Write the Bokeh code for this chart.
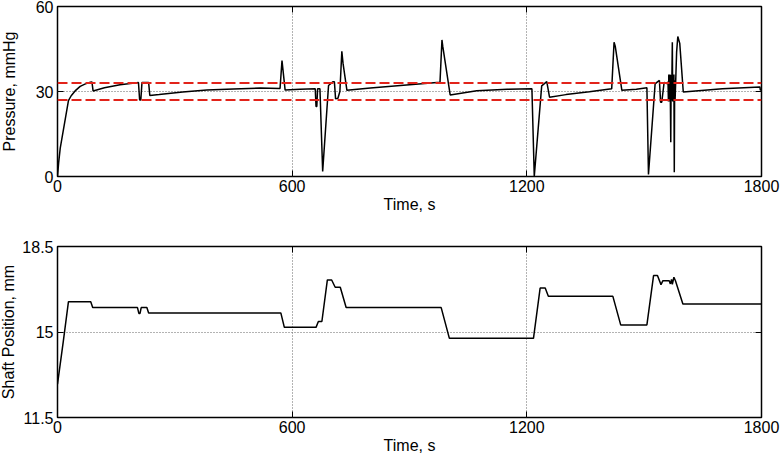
from bokeh.plotting import figure
from bokeh.layouts import column
from bokeh.models import FixedTicker, LinearAxis, Span
from bokeh.embed import file_html
from bokeh.resources import INLINE

# ---------------- data ----------------
time_pressure = [0, 3, 7, 28, 35, 45, 58, 70, 84, 88, 91, 120, 160, 207, 210, 213, 216, 233, 236,
                 260, 320, 382, 450, 518, 569, 574, 582, 620, 659, 661, 663, 665, 671, 678, 693,
                 704, 708, 711, 717, 722, 727, 730, 740, 800, 900, 978, 983, 985, 1004, 1072,
                 1150, 1213, 1219, 1238, 1251, 1258, 1300, 1360, 1417, 1423, 1426, 1443, 1480,
                 1507, 1511, 1528, 1534, 1539, 1542, 1545, 1551, 1558, 1561, 1562, 1563, 1563.5,
                 1564, 1565, 1566, 1567, 1568, 1569, 1570, 1571, 1572, 1573, 1574, 1575, 1576,
                 1577, 1578, 1579, 1580, 1583, 1586, 1591, 1600, 1700, 1796, 1797, 1800]
pressure = [0, 5, 10, 26.8, 28.5, 30.2, 31.8, 32.6, 33.3, 33.4, 30.2, 31.3, 32.4, 33.2, 27, 27,
            33.2, 33.2, 28.6, 28.9, 29.8, 30.5, 30.9, 31.2, 31.1, 40.9, 30.5, 30.8, 31.0, 24.7,
            24.7, 31, 31, 1.8, 32.1, 33.4, 33.4, 27.4, 27.6, 30, 44.2, 40, 30.4, 31.2, 32.4,
            33.3, 48.2, 46, 28.8, 30.3, 30.8, 31, 0, 32, 33.5, 28, 28.9, 29.9, 31, 47.4, 46,
            30.4, 30.8, 31.3, 0.7, 32.7, 33.4, 33.9, 26.2, 26.2, 33.2, 32.8, 33.4, 26.5, 36,
            26.5, 35.5, 26.8, 36, 26.5, 12.1, 35.8, 26.8, 36.2, 47.4, 26.5, 35.5, 26.8, 36,
            1.5, 34, 26.8, 31, 44, 49.4, 47, 29.8, 31, 31.6, 30.5, 30.5]

pressure_limits = [27, 33]

time_shaft = [0, 15, 28, 85, 90, 204.5, 208, 211, 214, 228.5, 233, 571, 580, 661, 667, 676, 690,
              701, 710, 723, 738, 981, 1002, 1217, 1234, 1247, 1255, 1420, 1440, 1507, 1524,
              1534, 1543, 1548, 1564, 1567, 1570, 1572, 1576, 1580, 1599, 1800]
shaft = [12.87, 14.64, 16.24, 16.24, 16.0, 16.0, 15.76, 15.76, 16.0, 16.0, 15.78, 15.78, 15.19,
         15.19, 15.43, 15.43, 17.13, 17.13, 16.83, 16.83, 16.0, 16.0, 14.74, 14.74, 16.8, 16.8,
         16.46, 16.46, 15.29, 15.29, 17.31, 17.31, 16.94, 17.1, 17.1, 16.97, 17.15, 16.95,
         17.24, 17.1, 16.15, 16.15]

x_ticks = [0, 600, 1200, 1800]
x_tick_labels = ["0", "600", "1200", "1800"]
p_ticks = [0, 30, 60]
p_tick_labels = ["0", "30", "60"]
s_ticks = [11.5, 15, 18.5]
s_tick_labels = ["11.5", "15", "18.5"]

FONT = "Liberation Sans"


def style(p, yticks, ylabels, ylab, ylab_standoff):
    p.outline_line_color = "black"
    p.outline_line_width = 1.5
    p.background_fill_color = "white"
    p.border_fill_color = "white"
    p.xaxis.ticker = FixedTicker(ticks=x_ticks)
    p.yaxis.ticker = FixedTicker(ticks=yticks)
    p.xaxis.major_label_overrides = {t: l for t, l in zip(x_ticks, x_tick_labels)}
    p.yaxis.major_label_overrides = {t: l for t, l in zip(yticks, ylabels)}
    for ax in (p.xaxis[0], p.yaxis[0]):
        ax.axis_line_color = None
        ax.major_tick_in = 6
        ax.major_tick_out = 0
        ax.minor_tick_line_color = None
        ax.major_tick_line_color = "black"
        ax.major_tick_line_width = 1
        ax.major_label_text_font = FONT
        ax.major_label_text_font_size = "16px"
        ax.major_label_text_color = "black"
        ax.axis_label_text_font = FONT
        ax.axis_label_text_font_size = "16px"
        ax.axis_label_text_font_style = "normal"
        ax.axis_label_text_color = "black"
    p.xaxis.major_label_standoff = 3
    p.yaxis.major_label_standoff = 4
    p.xaxis.axis_label = "Time, s"
    p.xaxis.axis_label_standoff = 1
    p.yaxis.axis_label = ylab
    p.yaxis.axis_label_standoff = ylab_standoff
    # mirrored tick marks (box style), no labels
    for side, tks in (("above", x_ticks), ("right", yticks)):
        ax = LinearAxis(ticker=FixedTicker(ticks=tks))
        ax.axis_line_color = None
        ax.major_tick_in = 6
        ax.major_tick_out = 0
        ax.minor_tick_line_color = None
        ax.major_label_text_font_size = "0px"
        ax.major_label_text_color = None
        ax.major_label_standoff = 0
        p.add_layout(ax, side)
    p.xgrid.ticker = FixedTicker(ticks=x_ticks)
    p.ygrid.ticker = FixedTicker(ticks=yticks)
    for g in (p.xgrid[0], p.ygrid[0]):
        g.grid_line_color = "#666666"
        g.grid_line_dash = "1 2"
        g.grid_line_width = 1


p1 = figure(output_backend="svg", toolbar_location=None, frame_width=704, frame_height=170,
            x_range=(0, 1800), y_range=(0, 60), min_border_left=62, min_border_right=19,
            min_border_top=6, min_border_bottom=46)
style(p1, p_ticks, p_tick_labels, "Pressure, mmHg", 15)
for lim in pressure_limits:
    p1.add_layout(Span(location=lim, dimension="width", line_color="#e2231a",
                       line_width=2, line_dash="10 4"))
p1.line(time_pressure, pressure, line_color="black", line_width=1.5)

p2 = figure(output_backend="svg", toolbar_location=None, frame_width=704, frame_height=171,
            x_range=(0, 1800), y_range=(11.5, 18.5), min_border_left=62, min_border_right=19,
            min_border_top=24, min_border_bottom=41)
style(p2, s_ticks, s_tick_labels, "Shaft Position, mm", 2)
p2.line(time_shaft, shaft, line_color="black", line_width=1.5)

layout = column(p1, p2, spacing=0, styles={"margin-left": "-5px"})
open("out.html", "w").write(file_html(layout, INLINE))
